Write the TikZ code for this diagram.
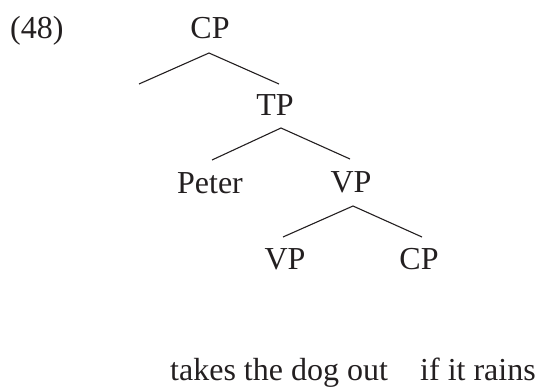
\documentclass[tikz,border=0pt]{standalone}
\usepackage{fontspec}
\setmainfont{Liberation Serif}
\definecolor{ink}{HTML}{231F20}
\begin{document}
\begin{tikzpicture}[x=1pt,y=-1pt,
  lbl/.style={anchor=base,inner sep=0pt,text=ink,font=\fontsize{32}{38}\selectfont},
  branch/.style={draw=ink,line width=1.1pt}]
\useasboundingbox (0,0) rectangle (536,388);

% labels
\node[lbl,anchor=base west] (ex) at (10,38) {(48)};
\node[lbl] (cp1) at (210,38) {CP};
\node[lbl] (tp) at (275,115) {TP};
\node[lbl] (peter) at (210,193) {Peter};
\node[lbl] (vp1) at (351,192) {VP};
\node[lbl] (vp2) at (285,269) {VP};
\node[lbl] (cp2) at (419,269) {CP};
\node[lbl,anchor=base west] (pred) at (170,380) {takes the dog out};
\node[lbl,anchor=base west] (cond) at (420,380) {if it rains};

% branch points
\coordinate (cp1-b) at (209,53);
\coordinate (cp1-l) at (139,84);
\coordinate (tp-t) at (279,84);
\coordinate (tp-b) at (281,128);
\coordinate (peter-t) at (212,160);
\coordinate (vp1-t) at (350,159);
\coordinate (vp1-b) at (353,206);
\coordinate (vp2-t) at (283,237);
\coordinate (cp2-t) at (422,237);

% branches
\draw[branch] (cp1-l) -- (cp1-b) -- (tp-t);
\draw[branch] (peter-t) -- (tp-b) -- (vp1-t);
\draw[branch] (vp2-t) -- (vp1-b) -- (cp2-t);
\end{tikzpicture}
\end{document}
